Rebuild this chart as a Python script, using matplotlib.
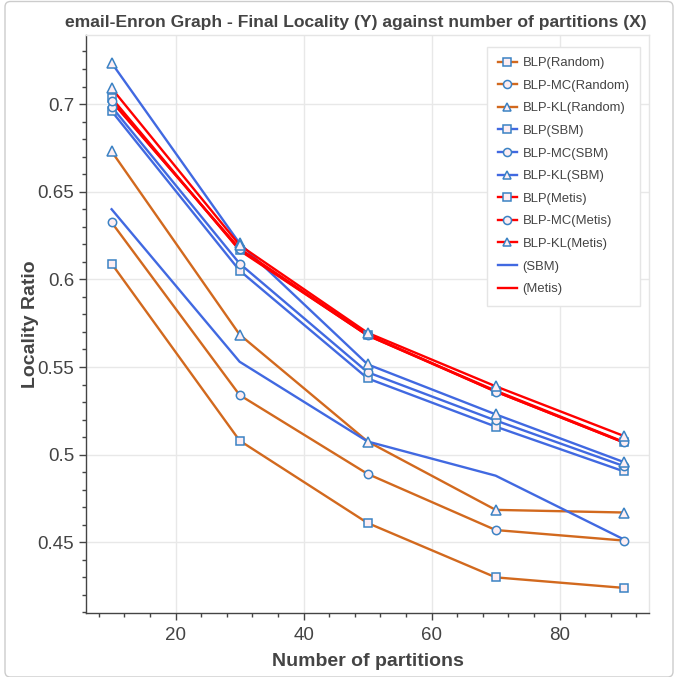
import matplotlib
matplotlib.use("Agg")
import matplotlib.pyplot as plt
from matplotlib.lines import Line2D
from matplotlib.patches import FancyBboxPatch

plt.rcParams['font.family'] = ['Liberation Sans', 'DejaVu Sans']

partitions = [10, 30, 50, 70, 90]

blp_random = [0.609, 0.508, 0.461, 0.430, 0.424]
blp_mc_random = [0.6325, 0.534, 0.489, 0.457, 0.451]
blp_kl_random = [0.673, 0.5685, 0.5075, 0.4685, 0.467]

blp_sbm = [0.696, 0.605, 0.5435, 0.516, 0.4905]
blp_mc_sbm = [0.6985, 0.609, 0.547, 0.5195, 0.4935]
blp_kl_sbm = [0.7235, 0.6205, 0.5515, 0.523, 0.4958]

blp_metis = [0.7035, 0.6165, 0.568, 0.5365, 0.5073]
blp_mc_metis = [0.7015, 0.6175, 0.5685, 0.536, 0.507]
blp_kl_metis = [0.709, 0.6195, 0.5695, 0.539, 0.5107]

sbm_only = [0.640, 0.553, 0.5075, 0.488, 0.4517]
metis_only = [0.702, 0.617, 0.568, 0.536, 0.507]

title_text = "email-Enron Graph - Final Locality (Y) against number of partitions (X)"
x_label = "Number of partitions"
y_label = "Locality Ratio"

series = [
    ("BLP(Random)", blp_random, "#d2691e", "s"),
    ("BLP-MC(Random)", blp_mc_random, "#d2691e", "o"),
    ("BLP-KL(Random)", blp_kl_random, "#d2691e", "^"),
    ("BLP(SBM)", blp_sbm, "#4169e1", "s"),
    ("BLP-MC(SBM)", blp_mc_sbm, "#4169e1", "o"),
    ("BLP-KL(SBM)", blp_kl_sbm, "#4169e1", "^"),
    ("BLP(Metis)", blp_metis, "#ff0000", "s"),
    ("BLP-MC(Metis)", blp_mc_metis, "#ff0000", "o"),
    ("BLP-KL(Metis)", blp_kl_metis, "#ff0000", "^"),
    ("(SBM)", sbm_only, "#4169e1", None),
    ("(Metis)", metis_only, "#ff0000", None),
]

MEC = "#3b82c4"
MFC = "#fdeef3"
LW = 1.7
TXT = "#444444"

W, H = 678, 677
fig = plt.figure(figsize=(W / 100, H / 100), dpi=100)
fig.patches.append(FancyBboxPatch((5 / W, 0.0), 1 - 10 / W, 1 - 1.5 / H,
                                  boxstyle="round,pad=0,rounding_size=0.008",
                                  transform=fig.transFigure, fill=False,
                                  edgecolor="#cccccc", linewidth=1.0))
ax = fig.add_axes([86 / W, 1 - 613.3 / H, (649.3 - 86) / W, (613.3 - 35) / H])

handles = []
for name, vals, col, mk in series:
    ax.plot(partitions, vals, color=col, lw=LW, zorder=2)
    if mk is not None:
        ms = 6.9 if mk == "^" else 6.0
        ax.plot(partitions, vals, linestyle="none", marker=mk, markersize=ms,
                markerfacecolor=MFC, markeredgecolor=MEC, markeredgewidth=1.1, zorder=3)
    handles.append(Line2D([0], [0], color=col, lw=LW, marker=mk if mk else None,
                          markersize=5.8, markerfacecolor=MFC, markeredgecolor=MEC,
                          markeredgewidth=1.1))

ax.set_xlim(6, 94)
ax.set_ylim(0.4095, 0.7394)
ax.set_xticks([20, 40, 60, 80])
ax.set_yticks([0.45, 0.5, 0.55, 0.6, 0.65, 0.7])
ax.set_yticklabels(["0.45", "0.5", "0.55", "0.6", "0.65", "0.7"])
ax.set_xticks([x for x in range(8, 94, 4) if x % 20 != 0], minor=True)
ax.set_yticks([round(0.41 + 0.01 * i, 2) for i in range(33)
               if round((0.41 + 0.01 * i) * 100) % 5 != 0], minor=True)

ax.grid(True, which="major", color="#e8e8e8", lw=1.0, zorder=0)
ax.set_axisbelow(True)
for s in ["top", "right"]:
    ax.spines[s].set_color("#e5e5e5")
    ax.spines[s].set_linewidth(1.0)
for s in ["left", "bottom"]:
    ax.spines[s].set_color(TXT)
    ax.spines[s].set_linewidth(1.0)
ax.tick_params(which="major", direction="out", length=5, width=1, color=TXT,
               labelsize=13.5, labelcolor=TXT)
ax.tick_params(axis="x", which="major", pad=5)
ax.tick_params(axis="y", which="major", pad=3.6)
ax.tick_params(which="minor", direction="out", length=3, width=1, color=TXT)

ax.set_xlabel(x_label, fontsize=14, fontweight="bold", color=TXT)
ax.set_ylabel(y_label, fontsize=14, fontweight="bold", color=TXT)
ax.xaxis.set_label_coords(0.5, (613.3 - 653) / 578.3)
ax.yaxis.set_label_coords((22 - 86) / 563.3, 0.5)
ax.yaxis.label.set_va("top")

t = fig.text(65 / W, 1 - 27 / H, title_text, fontsize=12, fontweight="bold",
             color=TXT, ha="left", va="baseline")
fig.canvas.draw()
bb = t.get_window_extent()
t.set_fontsize(12 * 580 / bb.width)

leg = ax.legend(handles, [s[0] for s in series], loc="upper right",
                bbox_to_anchor=((640 - 86) / 563.3, (613.3 - 46.7) / 578.3),
                fontsize=9.4, frameon=True,
                fancybox=False, edgecolor="#e5e5e5", framealpha=1.0,
                handlelength=1.5, handletextpad=0.4, labelspacing=0.8,
                borderpad=0.8, borderaxespad=0)
for tx in leg.get_texts():
    tx.set_color(TXT)
leg.get_frame().set_linewidth(1.0)

fig.savefig("out.png", dpi=100)
